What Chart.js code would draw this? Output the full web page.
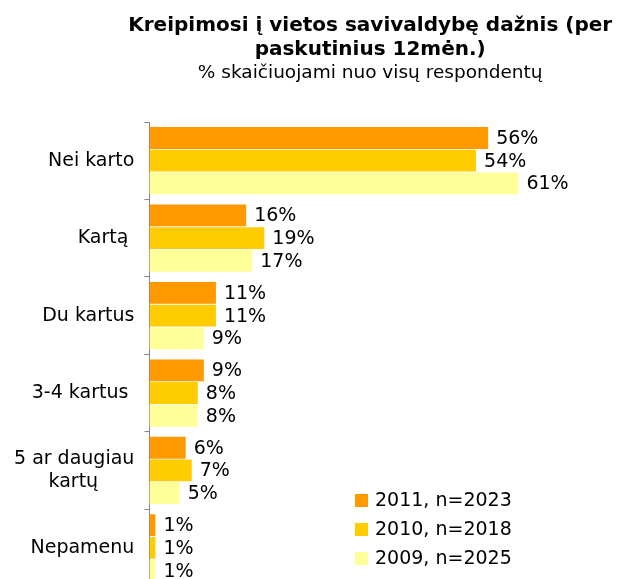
<!DOCTYPE html>
<html>
<head>
<meta charset="utf-8">
<script src="https://cdn.jsdelivr.net/npm/chart.js@4/dist/chart.umd.min.js"></script>
<style>
  html, body { margin: 0; padding: 0; background: #fff; overflow: hidden; }
  canvas { display: block; }
</style>
</head>
<body>
<canvas id="chart" width="617" height="608"></canvas>
<script>
// trailing spaces keep the labels where the original puts them
const categories = ["Nei karto", "Kartą ", "Du kartus", "3-4 kartus ", ["5 ar daugiau", "kartų      "], "Nepamenu"];
const seriesNames = ["2011, n=2023", "2010, n=2018", "2009, n=2025"];
const values2011 = [56, 16, 11, 9, 6, 1];
const values2010 = [54, 19, 11, 8, 7, 1];
const values2009 = [61, 17, 9, 8, 5, 1];
const colors = ["#FF9900", "#FFCC00", "#FFFF99"];
const titleLines = ["Kreipimosi į vietos savivaldybę dažnis (per", "paskutinius 12mėn.)"];
const subtitle = "% skaičiuojami nuo visų respondentų";

const FONT = "'DejaVu Sans', Verdana, sans-serif";

// title over the plot area, not the whole canvas
const titlePlugin = {
  id: "titleText",
  afterDraw(chart) {
    const { ctx, chartArea } = chart;
    const cx = (chartArea.left + chartArea.right) / 2;
    ctx.save();
    ctx.fillStyle = "#000";
    ctx.textAlign = "center";
    ctx.textBaseline = "alphabetic";
    ctx.font = "bold 20px " + FONT;
    ctx.fillText(titleLines[0], cx, 31);
    ctx.fillText(titleLines[1], cx, 55);
    ctx.font = "18.5px " + FONT;
    ctx.fillText(subtitle, cx, 78);
    ctx.restore();
  }
};

const valueLabels = {
  id: "valueLabels",
  afterDatasetsDraw(chart) {
    const { ctx } = chart;
    ctx.save();
    ctx.font = "19px " + FONT;
    ctx.fillStyle = "#000";
    ctx.textAlign = "left";
    ctx.textBaseline = "middle";
    chart.data.datasets.forEach((ds, i) => {
      chart.getDatasetMeta(i).data.forEach((bar, j) => {
        ctx.fillText(ds.data[j] + "%", bar.x + 8, bar.y + 1);
      });
    });
    ctx.restore();
  }
};

const legendBox = {
  id: "legendBox",
  afterDraw(chart) {
    const { ctx } = chart;
    ctx.save();
    ctx.font = "19px " + FONT;
    ctx.textBaseline = "middle";
    chart.data.datasets.forEach((ds, i) => {
      const y = 500 + i * 29;
      ctx.fillStyle = ds.backgroundColor;
      ctx.fillRect(355, y - 6, 13, 13);
      ctx.fillStyle = "#000";
      ctx.fillText(ds.label, 375, y + 1);
    });
    ctx.restore();
  }
};

const datasets = [values2011, values2010, values2009].map((vals, i) => ({
  label: seriesNames[i],
  data: vals,
  backgroundColor: colors[i],
  barPercentage: 0.96,
  categoryPercentage: 0.88,
}));

new Chart(document.getElementById("chart"), {
  type: "bar",
  data: { labels: categories, datasets },
  options: {
    indexAxis: "y",
    responsive: false,
    animation: false,
    devicePixelRatio: 1,
    layout: { padding: { top: 122, right: 26, bottom: 5, left: 4 } },
    plugins: {
      legend: { display: false },
      title: { display: false },
      tooltip: { enabled: false },
    },
    scales: {
      x: { display: false, min: 0, max: 73 },
      y: {
        grid: { offset: true, drawOnChartArea: false, tickLength: 5, color: "#868686" },
        border: { display: true, color: "#868686" },
        ticks: { color: "#000", padding: 10, font: { family: FONT, size: 19 } },
      },
    },
  },
  plugins: [titlePlugin, valueLabels, legendBox],
});
</script>
</body>
</html>
